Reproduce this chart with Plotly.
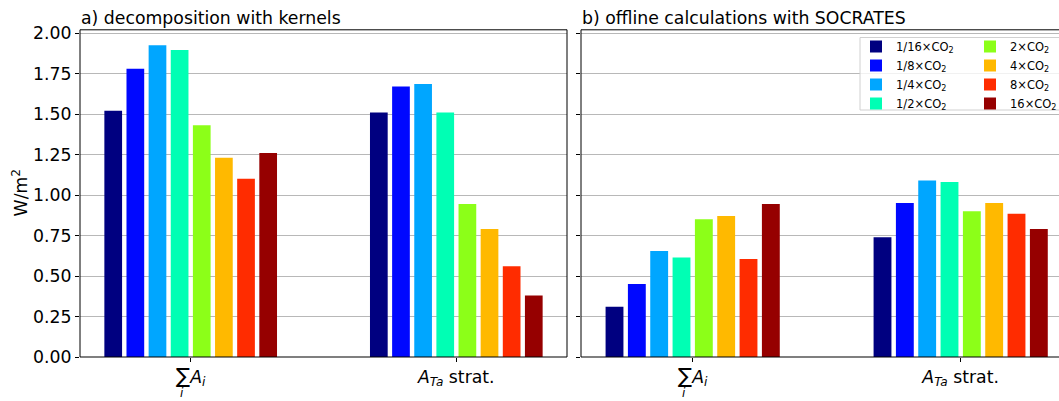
import plotly.graph_objects as go

# ---------------- data ----------------
categories = ["sum", "strat"]
tick_labels = [
    "<span style='font-size:21px'>∑</span><i>A<sub>i</sub></i>",
    "<i>A<sub>Ta</sub></i> strat.",
]
sum_index_label = "<i>i</i>"
series_names = [
    "1/16×CO<sub>2</sub>", "1/8×CO<sub>2</sub>", "1/4×CO<sub>2</sub>", "1/2×CO<sub>2</sub>",
    "2×CO<sub>2</sub>", "4×CO<sub>2</sub>", "8×CO<sub>2</sub>", "16×CO<sub>2</sub>",
]
# panel a) decomposition with kernels
kernels_sum = [1.52, 1.78, 1.925, 1.895, 1.43, 1.23, 1.10, 1.26]
kernels_strat = [1.51, 1.67, 1.685, 1.51, 0.945, 0.79, 0.56, 0.38]
# panel b) offline calculations with SOCRATES
socrates_sum = [0.31, 0.45, 0.655, 0.615, 0.85, 0.87, 0.605, 0.945]
socrates_strat = [0.74, 0.95, 1.09, 1.08, 0.90, 0.95, 0.885, 0.79]
y_ticks = [0.0, 0.25, 0.5, 0.75, 1.0, 1.25, 1.5, 1.75, 2.0]

# ---------------- styles ----------------
colors = ["#000080", "#0008ff", "#00a6ff", "#00ffb4",
          "#8cff18", "#ffb900", "#ff2c00", "#960000"]

W, H = 1059, 401
px = lambda v: v / W
py = lambda v: 1 - v / H

fig = go.Figure()
for i, name in enumerate(series_names):
    fig.add_trace(go.Bar(
        x=categories, y=[kernels_sum[i], kernels_strat[i]], name=name,
        marker=dict(color=colors[i], line=dict(width=0)),
        xaxis="x", yaxis="y",
        legend="legend" if i < 4 else "legend2",
        hoverinfo="skip",
    ))
for i, name in enumerate(series_names):
    fig.add_trace(go.Bar(
        x=categories, y=[socrates_sum[i], socrates_strat[i]], name=name,
        marker=dict(color=colors[i], line=dict(width=0)),
        xaxis="x2", yaxis="y2", showlegend=False, hoverinfo="skip",
    ))

FONT = "DejaVu Sans"
TF = 17.3
ydom = [py(357), py(29.8)]

xcommon = dict(
    type="category", range=[-0.4167, 1.4167], tickmode="array",
    tickvals=categories, ticktext=tick_labels, ticks="outside", ticklen=4,
    tickwidth=1, tickcolor="black", showgrid=False, showline=False,
    zeroline=False, automargin=False, tickfont=dict(size=TF, color="black"),
)
ycommon = dict(
    range=[0, 2.02], tickmode="array", tickvals=y_ticks, tickformat=".2f",
    ticks="outside", ticklen=4, tickwidth=1, tickcolor="black",
    showgrid=True, gridcolor="#b8b8b8", gridwidth=1, showline=False,
    zeroline=False, automargin=False, tickfont=dict(size=TF, color="black"),
)

fig.update_layout(
    width=W, height=H,
    margin=dict(l=0, r=0, t=0, b=0, autoexpand=False),
    paper_bgcolor="white", plot_bgcolor="white",
    font=dict(family=FONT, color="black"),
    barmode="group", bargap=1/3, bargroupgap=0.2,
    xaxis=dict(xcommon, domain=[px(80), px(567)], anchor="y"),
    yaxis=dict(ycommon, domain=ydom, anchor="x"),
    xaxis2=dict(xcommon, domain=[px(581), 1.0], anchor="y2",
                range=[-0.4167, -0.4167 + (W - 581) / 268.0]),
    yaxis2=dict(ycommon, domain=ydom, anchor="x2", matches="y",
                showticklabels=False),
    legend=dict(x=px(856), y=py(32), xanchor="left", yanchor="top",
                bgcolor="rgba(0,0,0,0)", borderwidth=0,
                font=dict(size=11.5, family=FONT), traceorder="normal"),
    legend2=dict(x=px(970), y=py(32), xanchor="left", yanchor="top",
                 bgcolor="rgba(0,0,0,0)", borderwidth=0,
                 font=dict(size=11.5, family=FONT), traceorder="normal"),
    showlegend=True,
)

shapes = []
def spine(xr, yr, x0, x1, y0, y1, color, width):
    shapes.append(dict(type="line", xref=xr, yref=yr, x0=x0, x1=x1, y0=y0, y1=y1,
                       line=dict(color=color, width=width), layer="above"))

for xr, yr in [("x domain", "y domain"), ("x2 domain", "y2 domain")]:
    spine(xr, yr, 0, 0, 0, 1, "black", 1)
    spine(xr, yr, 0, 1, 1, 1, "black", 1)
    spine(xr, yr, 0, 1, 0, 0, "rgba(0,0,0,0.5)", 2)
spine("x domain", "y domain", 1, 1, 0, 1, "rgba(0,0,0,0.5)", 2)

# legend frame
shapes.append(dict(type="rect", xref="paper", yref="paper",
                   x0=px(860), x1=px(1066), y0=py(110), y1=py(37.5),
                   fillcolor="rgba(255,255,255,0.8)",
                   line=dict(color="#d0d0d0", width=1), layer="above"))
fig.update_layout(shapes=shapes)

annotations = [
    dict(text="a) decomposition with kernels", x=px(79), y=py(30), xref="paper", yref="paper",
         xanchor="left", yanchor="bottom", showarrow=False, font=dict(size=TF)),
    dict(text="b) offline calculations with SOCRATES", x=px(580), y=py(30), xref="paper", yref="paper",
         xanchor="left", yanchor="bottom", showarrow=False, font=dict(size=TF)),
    dict(text="W/m<sup>2</sup>", x=px(20), y=(ydom[0] + ydom[1]) / 2, xref="paper", yref="paper",
         xanchor="center", yanchor="middle", textangle=-90, showarrow=False, font=dict(size=TF)),
]
# summation index under the ∑ of the first category, in both panels
for xr in ["x", "x2"]:
    annotations.append(dict(text=sum_index_label, x=categories[0], xref=xr, y=py(393), yref="paper",
                            xanchor="center", yanchor="middle", xshift=-9, showarrow=False,
                            font=dict(size=12)))
fig.update_layout(annotations=annotations)

fig.write_html("out.html", config={"displayModeBar": False},
               post_script="document.body.style.margin='0';document.body.style.overflow='hidden';")
